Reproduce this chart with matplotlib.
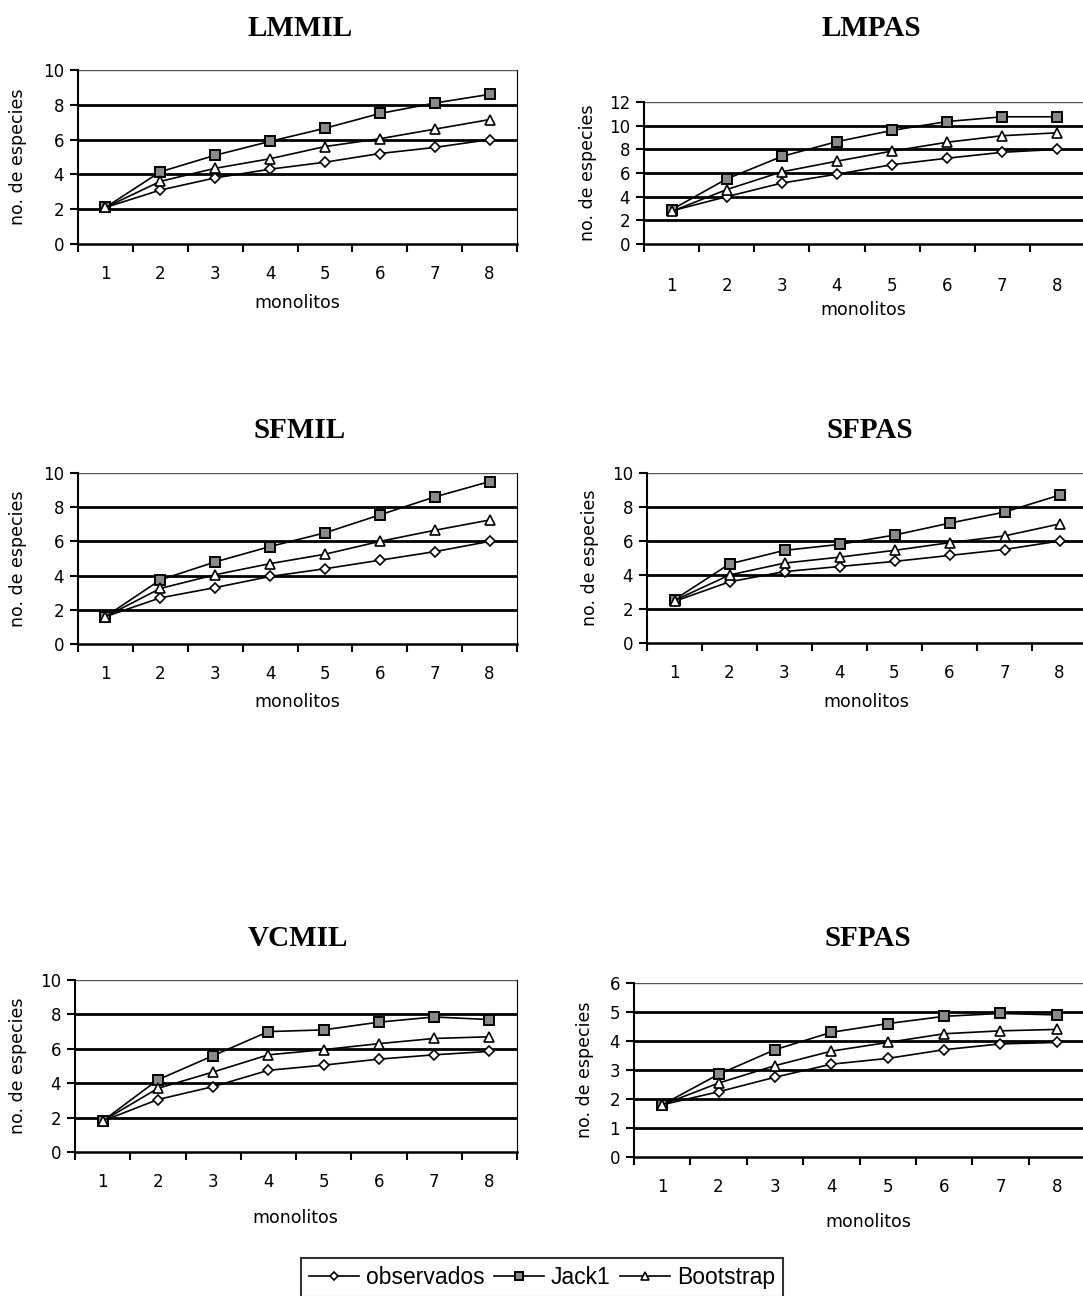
import matplotlib
matplotlib.use("Agg")
import matplotlib.pyplot as plt
from matplotlib.lines import Line2D

monolitos = [1, 2, 3, 4, 5, 6, 7, 8]
x_labels = ["1", "2", "3", "4", "5", "6", "7", "8"]

titles = ["LMMIL", "LMPAS", "SFMIL", "SFPAS", "VCMIL", "SFPAS"]

lmmil_obs = [2.1, 3.1, 3.8, 4.3, 4.7, 5.2, 5.55, 6.0]
lmmil_jack = [2.1, 4.15, 5.1, 5.9, 6.65, 7.5, 8.1, 8.6]
lmmil_boot = [2.1, 3.6, 4.35, 4.9, 5.6, 6.05, 6.6, 7.15]

lmpas_obs = [2.8, 4.0, 5.15, 5.9, 6.7, 7.25, 7.75, 8.0]
lmpas_jack = [2.9, 5.5, 7.4, 8.65, 9.6, 10.35, 10.75, 10.75]
lmpas_boot = [2.75, 4.6, 6.1, 7.0, 7.85, 8.6, 9.15, 9.4]

sfmil_obs = [1.6, 2.7, 3.3, 3.95, 4.4, 4.9, 5.4, 6.0]
sfmil_jack = [1.6, 3.75, 4.8, 5.7, 6.5, 7.55, 8.6, 9.5]
sfmil_boot = [1.6, 3.25, 4.05, 4.7, 5.25, 6.0, 6.65, 7.25]

sfpas_obs = [2.45, 3.6, 4.2, 4.5, 4.8, 5.15, 5.5, 6.0]
sfpas_jack = [2.55, 4.65, 5.45, 5.8, 6.35, 7.05, 7.7, 8.7]
sfpas_boot = [2.5, 4.0, 4.7, 5.05, 5.45, 5.9, 6.3, 7.0]

vcmil_obs = [1.8, 3.05, 3.8, 4.75, 5.05, 5.4, 5.65, 5.85]
vcmil_jack = [1.8, 4.2, 5.6, 7.0, 7.1, 7.55, 7.85, 7.7]
vcmil_boot = [1.8, 3.7, 4.65, 5.65, 5.95, 6.3, 6.6, 6.7]

sfpas2_obs = [1.8, 2.25, 2.75, 3.2, 3.4, 3.7, 3.9, 3.95]
sfpas2_jack = [1.8, 2.85, 3.7, 4.3, 4.6, 4.85, 4.95, 4.9]
sfpas2_boot = [1.8, 2.55, 3.15, 3.65, 3.95, 4.25, 4.35, 4.4]

y_max = [10, 12, 10, 10, 10, 6]
y_step = [2, 2, 2, 2, 2, 1]

series_names = ["observados", "Jack1", "Bootstrap"]

panel_data = [
    (lmmil_obs, lmmil_jack, lmmil_boot),
    (lmpas_obs, lmpas_jack, lmpas_boot),
    (sfmil_obs, sfmil_jack, sfmil_boot),
    (sfpas_obs, sfpas_jack, sfpas_boot),
    (vcmil_obs, vcmil_jack, vcmil_boot),
    (sfpas2_obs, sfpas2_jack, sfpas2_boot),
]

W, H = 1083, 1296
fig = plt.figure(figsize=(W / 100, H / 100), dpi=100)
fig.patch.set_facecolor("white")

# pixel boxes: left, right, top, bottom
boxes = [
    (78, 517, 70, 244),
    (644, 1085, 102, 244),
    (78, 517, 473, 644),
    (647, 1087, 473, 643),
    (75, 517, 980, 1152),
    (634, 1085, 983, 1157),
]
title_pos = [(300, 28), (871, 28), (300, 430), (870, 430), (298, 938), (868, 938)]
xlabel_pos = [(297, 303), (863, 310), (297, 702), (866, 702), (295, 1218), (868, 1222)]
tick_pad = [15, 24, 15, 15, 15, 15]
ylabel_x = [18, 588, 18, 590, 18, 585]

styles = [
    dict(marker="D", markersize=5.5, markerfacecolor="white", markeredgecolor="black",
         markeredgewidth=1.2),
    dict(marker="s", markersize=6.5, markerfacecolor="#8a8a8a", markeredgecolor="black",
         markeredgewidth=1.4),
    dict(marker="^", markersize=7.5, markerfacecolor="white", markeredgecolor="black",
         markeredgewidth=1.2),
]

tick_font = dict(family="DejaVu Sans", size=12)

for i, (box, data) in enumerate(zip(boxes, panel_data)):
    l, r, t, b = box
    ax = fig.add_axes([l / W, 1 - b / H, (r - l) / W, (b - t) / H])
    ax.set_xlim(0.5, 8.5)
    ax.set_ylim(0, y_max[i])
    yt = list(range(0, y_max[i] + 1, y_step[i]))
    ax.set_yticks(yt)
    ax.set_yticklabels([str(v) for v in yt], **tick_font)
    for v in yt[1:]:
        lw = 1.0 if v == y_max[i] else 2.0
        col = "#555555" if v == y_max[i] else "black"
        ax.axhline(v, color=col, lw=lw, zorder=1)
    ax.set_xticks([k + 0.5 for k in range(0, 9)])
    ax.set_xticklabels([])
    ax.set_xticks(monolitos, minor=True)
    ax.set_xticklabels(x_labels, minor=True, **tick_font)
    ax.tick_params(axis="x", which="minor", length=0, pad=tick_pad[i])
    ax.tick_params(axis="x", which="major", length=6, width=1.5, direction="out")
    ax.tick_params(axis="y", length=6, width=1.5, direction="out", pad=4)
    ax.spines["top"].set_visible(False)
    ax.spines["right"].set_linewidth(0.8)
    ax.spines["left"].set_linewidth(1.5)
    ax.spines["bottom"].set_linewidth(1.8)
    for s, st in zip(data, styles):
        ax.plot(monolitos, s, color="black", lw=1.2, zorder=3, clip_on=False, **st)
    fig.text(title_pos[i][0] / W, 1 - title_pos[i][1] / H, titles[i],
             ha="center", va="center", family="Liberation Serif",
             weight="bold", size=21)
    fig.text(xlabel_pos[i][0] / W, 1 - xlabel_pos[i][1] / H, "monolitos",
             ha="center", va="center", family="DejaVu Sans", size=12.5)
    fig.text(ylabel_x[i] / W, 1 - ((t + b) / 2) / H, "no. de especies",
             ha="center", va="center", rotation=90, family="DejaVu Sans", size=12.5)

handles = [Line2D([0], [0], color="black", lw=1.2, **{**st, "markersize": st["markersize"] * 0.8})
           for st in styles]
leg = fig.legend(handles, series_names, loc="lower center",
                 bbox_to_anchor=(542 / W, -12 / H), ncol=3,
                 prop=dict(family="Liberation Sans", size=16.5),
                 frameon=True, fancybox=False, edgecolor="black",
                 handlelength=2.2, handletextpad=0.3, columnspacing=0.4,
                 borderpad=0.35)
leg.get_frame().set_linewidth(1.5)

fig.savefig("out.png", dpi=100, facecolor="white")
